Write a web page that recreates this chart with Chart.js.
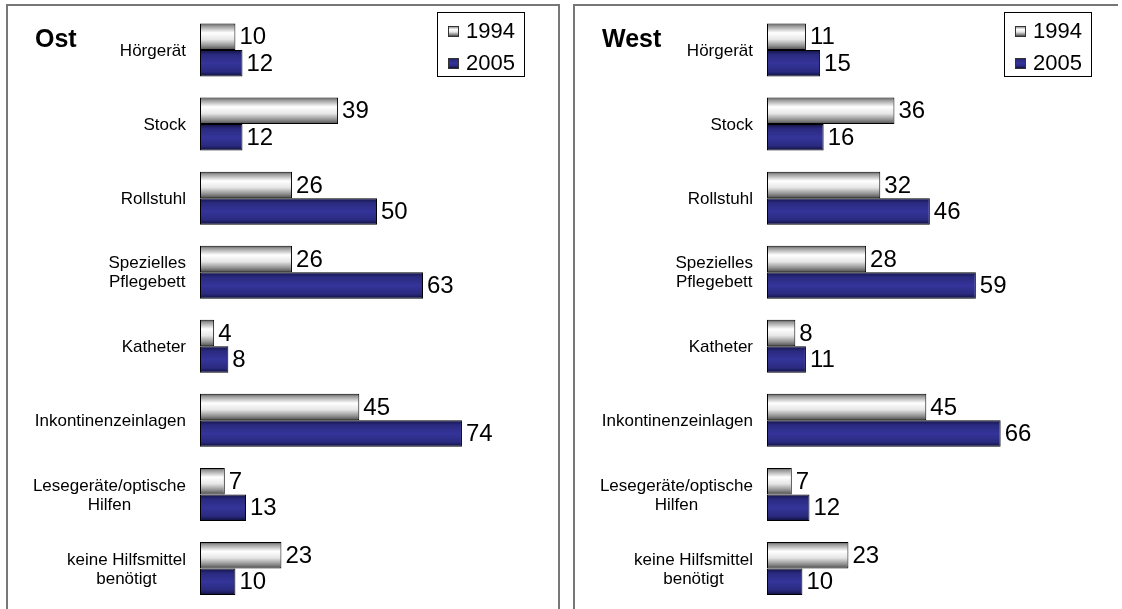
<!DOCTYPE html>
<html>
<head>
<meta charset="utf-8">
<script src="https://cdn.jsdelivr.net/npm/chart.js@4.4.0/dist/chart.umd.min.js"></script>
<style>
  body { margin: 0; background: #fff; width: 1122px; height: 609px; overflow: hidden; position: relative; }
  .panel { position: absolute; box-sizing: border-box; border: 2px solid #777; }
  #panelOst { left: 6px; top: 4px; width: 554px; height: 620px; }
  #panelWest { left: 573px; top: 4px; width: 545px; height: 620px; border-right: none; }
  canvas { position: absolute; }
  #chartOst { left: 8px; top: 6px; }
  #chartWest { left: 575px; top: 6px; }
</style>
</head>
<body>
<div class="panel" id="panelOst"></div>
<div class="panel" id="panelWest"></div>
<canvas id="chartOst" width="550" height="603"></canvas>
<canvas id="chartWest" width="547" height="603"></canvas>
<script>
// Data
const categories = [
  ['Hörgerät'],
  ['Stock'],
  ['Rollstuhl'],
  ['Spezielles', 'Pflegebett'],
  ['Katheter'],
  ['Inkontinenzeinlagen'],
  ['Lesegeräte/optische', 'Hilfen'],
  ['keine Hilfsmittel', 'benötigt']
];
const years = ['1994', '2005'];
const ost1994 = [10, 39, 26, 26, 4, 45, 7, 23];
const ost2005 = [12, 12, 50, 63, 8, 74, 13, 10];
const west1994 = [11, 36, 32, 28, 8, 45, 7, 23];
const west2005 = [15, 16, 46, 59, 11, 66, 12, 10];
const xMax = 90;

const FONT = '"Liberation Sans", Arial, sans-serif';
const pxPerUnit = 3.54;
const axisLeft = 192;

// vertical shading of the bars, one set of stops per series
const seriesStops = [
  [[0, '#555555'], [0.1, '#9a9a9a'], [0.35, '#ffffff'], [0.6, '#e6e6e6'], [0.85, '#8c8c8c'], [1, '#4a4a4a']],
  [[0, '#121245'], [0.18, '#2a2a80'], [0.5, '#34349a'], [0.82, '#2a2a80'], [1, '#0e0e3a']]
];

function makeGradient(ctx, top, h, stops) {
  const g = ctx.createLinearGradient(0, top, 0, top + h);
  stops.forEach(s => g.addColorStop(s[0], s[1]));
  return g;
}

// Shade each bar with its own gradient
const barShading = {
  id: 'barShading',
  beforeDatasetsDraw(chart) {
    const ctx = chart.ctx;
    chart.data.datasets.forEach((ds, di) => {
      chart.getDatasetMeta(di).data.forEach(bar => {
        const top = bar.y - bar.height / 2;
        const g = makeGradient(ctx, top, bar.height, seriesStops[di]);
        bar.options = Object.assign({}, bar.options, { backgroundColor: g });
      });
    });
  }
};

// Numbers at the end of the bars
const valueLabels = {
  id: 'valueLabels',
  afterDatasetsDraw(chart) {
    const ctx = chart.ctx;
    ctx.save();
    ctx.font = '24px ' + FONT;
    ctx.fillStyle = '#000';
    ctx.textAlign = 'left';
    ctx.textBaseline = 'middle';
    chart.data.datasets.forEach((ds, di) => {
      chart.getDatasetMeta(di).data.forEach((bar, i) => {
        ctx.fillText(String(ds.data[i]), bar.x + 4, bar.y + 1);
      });
    });
    ctx.restore();
  }
};

// Category names: block right-aligned, lines centred inside the block
const categoryLabels = {
  id: 'categoryLabels',
  afterDraw(chart) {
    const ctx = chart.ctx;
    const yScale = chart.scales.y;
    const right = chart.chartArea.left - 14;
    const lineH = 19;
    ctx.save();
    ctx.font = '17px ' + FONT;
    ctx.fillStyle = '#000';
    ctx.textAlign = 'center';
    ctx.textBaseline = 'middle';
    chart.data.labels.forEach((lines, i) => {
      const y = yScale.getPixelForTick(i) + 1;
      const w = Math.max(...lines.map(l => ctx.measureText(l).width));
      const cx = right - w / 2;
      lines.forEach((l, k) => {
        ctx.fillText(l, cx, y + (k - (lines.length - 1) / 2) * lineH);
      });
    });
    ctx.restore();
  }
};

// Panel title and boxed legend
const panelDecor = {
  id: 'panelDecor',
  afterDraw(chart, args, opts) {
    const ctx = chart.ctx;
    ctx.save();
    ctx.fillStyle = '#000';
    ctx.font = 'bold 25px ' + FONT;
    ctx.textAlign = 'left';
    ctx.textBaseline = 'alphabetic';
    ctx.fillText(opts.title, 27, 41);

    const bx = 429, by = 6, bw = 87, bh = 64;
    ctx.fillStyle = '#fff';
    ctx.fillRect(bx, by, bw, bh);
    ctx.strokeStyle = '#000';
    ctx.lineWidth = 1;
    ctx.strokeRect(bx + 0.5, by + 0.5, bw, bh);

    ctx.font = '22px ' + FONT;
    ctx.textBaseline = 'middle';
    chart.data.datasets.forEach((ds, di) => {
      const cy = by + 19 + di * 31.5;
      const sx = bx + 11, sy = Math.round(cy - 5);
      ctx.fillStyle = makeGradient(ctx, sy, 10, seriesStops[di]);
      ctx.fillRect(sx, sy, 10, 10);
      ctx.strokeStyle = '#333';
      ctx.strokeRect(sx + 0.5, sy + 0.5, 10, 10);
      ctx.fillStyle = '#000';
      ctx.fillText(ds.label, bx + 29, cy + 1);
    });
    ctx.restore();
  }
};

function makeChart(id, title, first, second) {
  const canvas = document.getElementById(id);
  const rightPad = canvas.width - axisLeft - xMax * pxPerUnit;
  return new Chart(canvas, {
    type: 'bar',
    data: {
      labels: categories,
      datasets: [
        { label: years[0], data: first, borderColor: '#000', borderWidth: 1, borderSkipped: false },
        { label: years[1], data: second, borderColor: '#000', borderWidth: 1, borderSkipped: false }
      ]
    },
    options: {
      indexAxis: 'y',
      responsive: false,
      animation: false,
      events: [],
      layout: { padding: { left: axisLeft, right: rightPad, top: 7, bottom: 3.5 } },
      datasets: { bar: { categoryPercentage: 0.716, barPercentage: 1 } },
      scales: {
        x: { display: false, min: 0, max: xMax },
        y: { display: false }
      },
      plugins: {
        legend: { display: false },
        tooltip: { enabled: false },
        panelDecor: { title: title }
      }
    },
    plugins: [barShading, valueLabels, categoryLabels, panelDecor]
  });
}

makeChart('chartOst', 'Ost', ost1994, ost2005);
makeChart('chartWest', 'West', west1994, west2005);
</script>
</body>
</html>
